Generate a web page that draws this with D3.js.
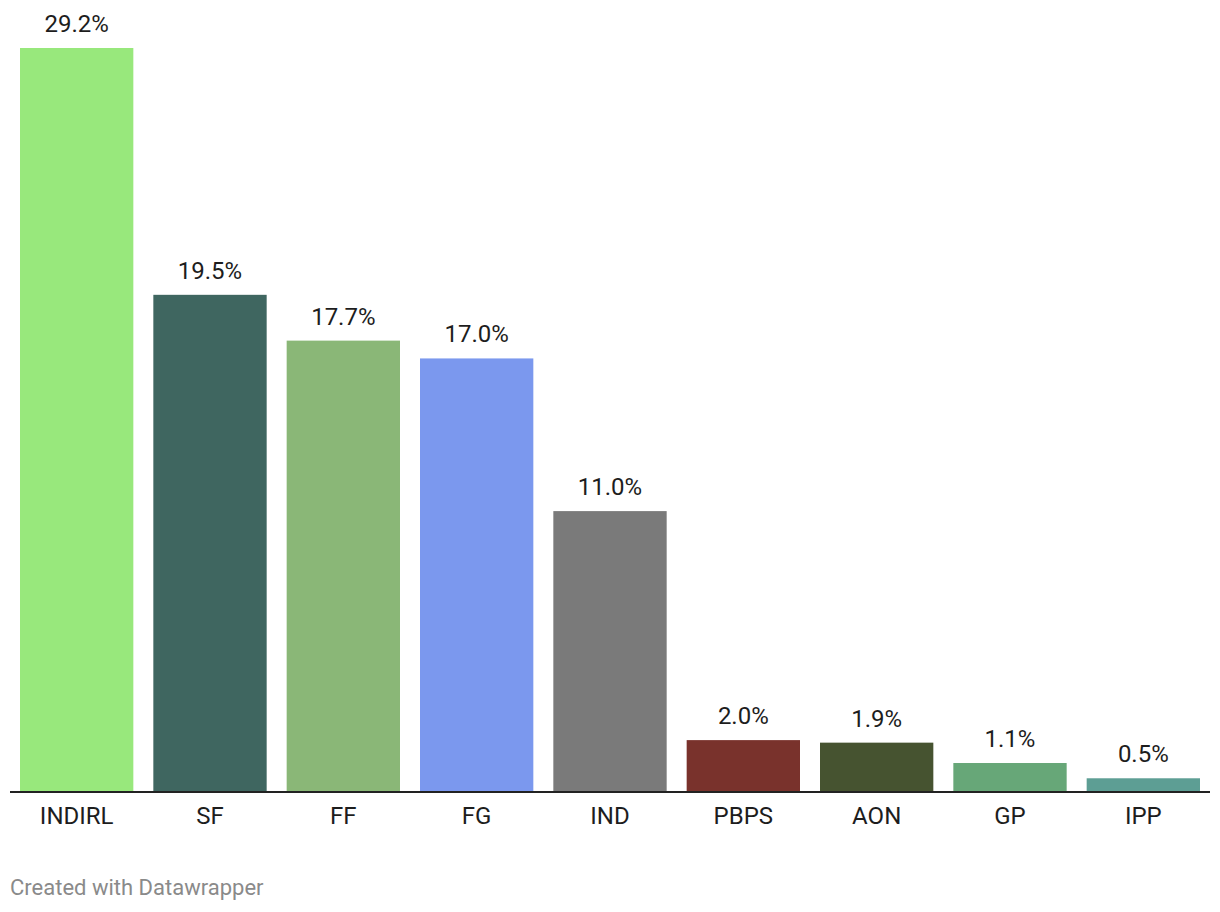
<!DOCTYPE html>
<html>
<head>
<meta charset="utf-8">
<script src="https://cdnjs.cloudflare.com/ajax/libs/d3/7.8.5/d3.min.js"></script>
<style>
  html, body { margin:0; padding:0; background:#fff; }
  svg { display:block; font-family: Roboto, "Noto Sans", sans-serif; }
</style>
</head>
<body>
<svg width="1220" height="912"></svg>
<script>
// party share of vote
var parties = ["INDIRL", "SF", "FF", "FG", "IND", "PBPS", "AON", "GP", "IPP"];
var shares  = [29.2, 19.5, 17.7, 17.0, 11.0, 2.0, 1.9, 1.1, 0.5];
var colors  = ["#98e87c", "#3f6660", "#8ab777", "#7b98ee", "#7a7a7a", "#79322c", "#465330", "#67a778", "#5d9e94"];

var data = parties.map(function(p, i) { return {party: p, value: shares[i], color: colors[i]}; });

var svg = d3.select("svg"),
    margin = {left: 20, right: 20, top: 48, bottom: 121},
    width = 1220 - margin.left - margin.right,
    height = 912 - margin.top - margin.bottom;

var x = d3.scaleBand().domain(parties).range([0, width]).paddingInner(0.15).paddingOuter(0);
var y = d3.scaleLinear().domain([0, 29.2]).range([height, 0]);

var g = svg.append("g").attr("transform", "translate(" + margin.left + "," + margin.top + ")");

g.selectAll(".bar")
  .data(data)
  .enter().append("rect")
  .attr("class", "bar")
  .attr("x", function(d) { return x(d.party); })
  .attr("y", function(d) { return y(d.value); })
  .attr("width", x.bandwidth())
  .attr("height", function(d) { return height - y(d.value); })
  .attr("fill", function(d) { return d.color; });

g.selectAll(".val")
  .data(data)
  .enter().append("text")
  .attr("class", "val")
  .attr("x", function(d) { return x(d.party) + x.bandwidth() / 2; })
  .attr("y", function(d) { return y(d.value) - 16; })
  .attr("text-anchor", "middle")
  .attr("font-size", "24px")
  .attr("fill", "#1d1d1d")
  .text(function(d) { return d.value.toFixed(1) + "%"; });

// x axis
var ax = g.append("g")
  .attr("transform", "translate(0," + height + ")")
  .call(d3.axisBottom(x).tickSize(0));
ax.select(".domain").remove();
ax.selectAll("text")
  .attr("y", 33).attr("dy", 0)
  .attr("font-size", "24px").attr("fill", "#1d1d1d").attr("font-family", "Roboto, sans-serif");

g.append("line")
  .attr("x1", -10).attr("x2", width + 10)
  .attr("y1", height + 1).attr("y2", height + 1)
  .attr("stroke", "#222").attr("stroke-width", 2);

svg.append("text")
  .attr("x", 10).attr("y", 895)
  .attr("font-size", "22px")
  .attr("fill", "#8a8a8a")
  .text("Created with Datawrapper");
</script>
</body>
</html>
